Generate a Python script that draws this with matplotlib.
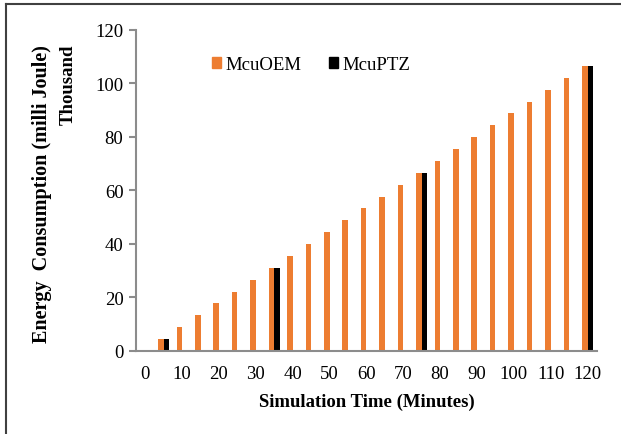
import numpy as np
import matplotlib
matplotlib.use('Agg')
import matplotlib.pyplot as plt
from matplotlib.lines import Line2D
from matplotlib.patches import Patch

plt.rcParams['font.family'] = ['Liberation Serif', 'DejaVu Serif']

# simulation time (minutes) and energy consumption (thousand milli Joule)
minutes = [0, 5, 10, 15, 20, 25, 30, 35, 40, 45, 50, 55, 60,
           65, 70, 75, 80, 85, 90, 95, 100, 105, 110, 115, 120]
mcu_oem = [0, 4.4, 8.9, 13.3, 17.8, 22.2, 26.6, 31.1, 35.5, 40.0, 44.4, 48.8, 53.3,
           57.7, 62.1, 66.6, 71.0, 75.5, 79.9, 84.3, 88.8, 93.2, 97.6, 102.1, 106.5]
ptz_minutes = [5, 35, 75, 120]
mcu_ptz = [4.4, 31.1, 66.6, 106.5]

oem_color = '#ED7D31'
axis_gray = '#8C8C8C'
bw = 1.5
fs = 13.5

fig = plt.figure(figsize=(6.21, 4.35), dpi=100)
ax = fig.add_axes([0.219, 0.191, 0.742, 0.738])

ax.bar(np.array(minutes) - bw / 2, mcu_oem, width=bw, color=oem_color, label='McuOEM')
ax.bar(np.array(ptz_minutes) + bw / 2, mcu_ptz, width=bw, color='black', label='McuPTZ')

ax.set_xlim(-2.5, 122.5)
ax.set_ylim(0, 120)
ax.set_xticks(range(0, 121, 10))
ax.set_yticks(range(0, 121, 20))

for s in ['top', 'right']:
    ax.spines[s].set_visible(False)
for s in ['left', 'bottom']:
    ax.spines[s].set_color(axis_gray)
    ax.spines[s].set_linewidth(1.5)
ax.tick_params(axis='y', colors=axis_gray, length=5, width=1.5, labelcolor='black',
               labelsize=fs, pad=4)
ax.tick_params(axis='x', length=0, labelsize=fs, pad=10)

ax.set_xlabel('Simulation Time (Minutes)', fontsize=fs, fontweight='bold', labelpad=8)
fig.text(0.068, 0.553, 'Energy  Consumption (milli Joule)', rotation=90, fontsize=14.5,
         fontweight='bold', ha='center', va='center')
fig.text(0.110, 0.805, 'Thousand', rotation=90, fontsize=fs,
         fontweight='bold', ha='center', va='center')

handles = [Patch(color=oem_color, label='McuOEM'), Patch(color='black', label='McuPTZ')]
ax.legend(handles=handles, loc='upper left', bbox_to_anchor=(0.128, 0.97), ncol=2,
          frameon=False, fontsize=fs, handlelength=0.5, handleheight=0.5,
          handletextpad=0.2, columnspacing=1.5)

# outer frame (left and top edges)
fig.add_artist(Line2D([0.01, 0.01], [0.0, 0.988], color='#404040', lw=1.5,
                      transform=fig.transFigure))
fig.add_artist(Line2D([0.01, 1.0], [0.988, 0.988], color='#404040', lw=1.5,
                      transform=fig.transFigure))

fig.savefig('out.png', dpi=100)
